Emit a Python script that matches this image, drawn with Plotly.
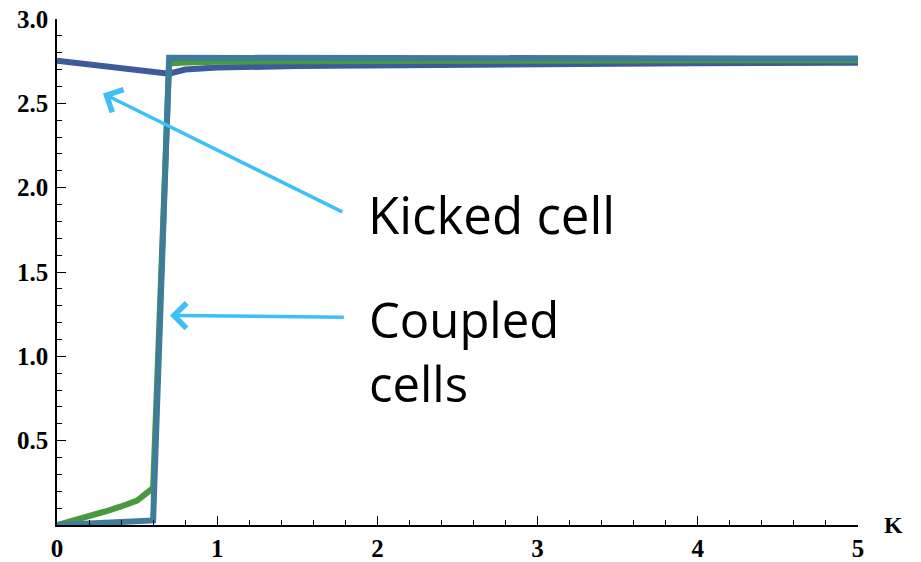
import plotly.graph_objects as go

K = [0, 0.1, 0.2, 0.3, 0.4, 0.5, 0.6, 0.7, 0.8, 0.9, 1.0, 1.5, 2.0, 2.5, 3.0, 3.5, 4.0, 4.5, 5.0]
kicked = [2.753, 2.742, 2.730, 2.718, 2.706, 2.694, 2.683, 2.676, 2.700, 2.707, 2.712, 2.721, 2.726,
          2.730, 2.733, 2.735, 2.737, 2.739, 2.741]
coupled_a = [0.0, 0.025, 0.05, 0.08, 0.11, 0.145, 0.22, 2.736, 2.742, 2.745, 2.747, 2.750, 2.752,
             2.753, 2.754, 2.755, 2.755, 2.756, 2.756]
coupled_b = [0.0, 0.005, 0.009, 0.013, 0.017, 0.021, 0.027, 2.77, 2.77, 2.77, 2.77, 2.77, 2.77,
             2.77, 2.77, 2.77, 2.768, 2.767, 2.766]

x_ticks = [0, 1, 2, 3, 4, 5]
y_ticks = [0.5, 1.0, 1.5, 2.0, 2.5, 3.0]
y_tick_text = ["0.5", "1.0", "1.5", "2.0", "2.5", "3.0"]

label_kicked = "Kicked cell"
label_coupled = "Coupled<br>cells"

fig = go.Figure()
fig.add_trace(go.Scatter(x=K, y=kicked, mode="lines", line=dict(color="#3d5b9b", width=6),
                         showlegend=False))
fig.add_trace(go.Scatter(x=K, y=coupled_a, mode="lines", line=dict(color="#4a9a3d", width=6),
                         showlegend=False))
fig.add_trace(go.Scatter(x=K, y=coupled_b, mode="lines", line=dict(color="#3f7c9a", width=6),
                         showlegend=False))

arrow_color = "#3ec0f7"
# arrows: (tip x, tip y, tail x, tail y) in data coords
arrows = [(0.287, 2.558, 1.79, 1.852), (0.705, 1.242, 1.80, 1.232)]
for tx, ty, ax, ay in arrows:
    fig.add_annotation(x=tx, y=ty, ax=ax, ay=ay, xref="x", yref="y", axref="x", ayref="y",
                       showarrow=True, arrowhead=4, arrowsize=1.4, arrowwidth=3.5,
                       arrowcolor=arrow_color, text="")

fig.add_annotation(x=1.93, y=1.846, xref="x", yref="y", text=label_kicked, showarrow=False,
                   xanchor="left", yanchor="middle",
                   font=dict(family="Open Sans", size=51, color="black"))
fig.add_annotation(x=1.935, y=1.03, xref="x", yref="y", text=label_coupled, showarrow=False,
                   xanchor="left", yanchor="middle", align="left",
                   font=dict(family="Open Sans", size=49, color="black"))

fig.add_annotation(x=1.0, y=0, xref="paper", yref="y", text="K", showarrow=False,
                   xanchor="left", yanchor="middle", xshift=24, yshift=0,
                   font=dict(family="Liberation Serif", size=24, color="black", weight="bold"))

tick_font = dict(family="Liberation Serif", size=25, color="black", weight="bold")
fig.update_xaxes(range=[0, 5], tickvals=x_ticks, ticks="inside", ticklen=9, tickwidth=1,
                 tickcolor="black", showline=True, linecolor="black", linewidth=1.5,
                 showgrid=False, zeroline=False, tickfont=tick_font, ticklabelstandoff=0,
                 automargin=False,
                 minor=dict(ticks="inside", ticklen=5, dtick=0.2, tickcolor="black", showgrid=False))
fig.update_yaxes(range=[0, 3], tickvals=y_ticks, ticktext=y_tick_text, ticks="inside", ticklen=9,
                 tickwidth=1, tickcolor="black", showline=True, linecolor="black", linewidth=1.5,
                 showgrid=False, zeroline=False, tickfont=tick_font, ticklabelstandoff=2,
                 automargin=False,
                 minor=dict(ticks="inside", ticklen=5, dtick=0.1, tickcolor="black", showgrid=False))

fig.update_layout(width=921, height=562, margin=dict(l=57, r=63, t=19, b=37),
                  plot_bgcolor="white", paper_bgcolor="white")

fig.write_html("out.html")
